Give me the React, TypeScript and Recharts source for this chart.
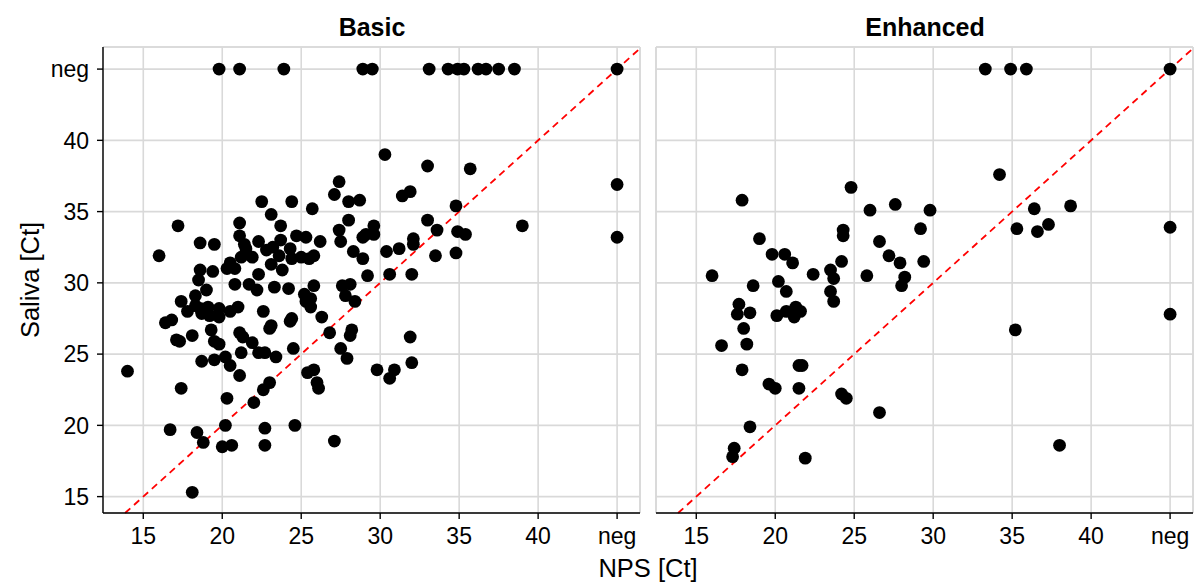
import React from "react";
import { ScatterChart, Scatter, XAxis, YAxis, CartesianGrid, ReferenceLine } from "recharts";

// "neg" results are drawn at Ct = 45
const NEG = 45;
const axisTicks = [15, 20, 25, 30, 35, 40, NEG];
const xDomain: [number, number] = [12.45, 46.45];
const yDomain: [number, number] = [13.85, 46.55];

// Basic panel: [NPS, Saliva]
const basicPairs: [number, number][] = [
  [16.0, 31.9], [17.2, 34.0], [18.6, 32.8], [19.5, 32.7], [22.5, 35.7], [23.1, 34.8], [23.7, 34.0],
  [24.4, 35.7], [25.7, 35.2], [27.1, 36.2], [27.4, 37.1], [28.0, 35.7], [28.7, 35.8],
  [21.1, 34.2], [21.1, 33.3], [21.4, 32.7], [21.5, 32.4], [22.3, 32.9], [22.8, 32.3], [23.2, 32.5],
  [23.7, 33.0], [24.7, 33.3], [25.3, 33.2], [26.2, 32.9], [24.3, 32.4], [23.6, 31.9], [24.4, 31.7],
  [25.0, 31.8], [25.8, 31.9], [25.5, 31.7], [21.9, 31.8], [21.2, 31.8], [23.1, 31.3], [23.8, 30.9],
  [20.5, 31.4], [20.3, 31.0], [20.8, 31.0], [18.6, 30.9], [19.4, 30.8], [18.5, 30.2], [20.8, 29.9],
  [21.7, 29.9], [22.3, 30.6], [22.2, 29.5], [23.3, 29.7], [24.2, 29.6], [25.8, 29.8], [25.2, 29.2],
  [25.6, 28.9], [25.3, 28.7], [25.6, 28.3], [26.3, 27.6],
  [27.4, 33.7], [27.5, 32.9], [28.0, 34.4], [28.3, 32.2], [28.9, 31.7], [28.9, 33.2], [29.1, 33.4],
  [29.6, 34.0], [29.6, 33.4], [29.2, 30.5], [27.6, 29.8], [28.1, 29.9], [27.8, 29.1], [28.4, 28.7],
  [22.6, 28.0], [24.4, 27.5], [24.3, 27.3], [17.4, 28.7], [18.3, 29.1], [19.0, 29.5], [17.8, 28.0],
  [18.6, 28.2], [18.3, 28.4], [19.1, 28.3], [19.8, 28.2], [20.5, 28.0], [21.0, 28.3], [16.8, 27.4],
  [18.7, 27.85], [19.8, 27.6], [19.2, 27.7], [16.4, 27.2],
  [30.3, 39.0], [33.0, 38.2], [35.7, 38.0], [31.4, 36.1], [31.9, 36.4], [34.8, 35.4], [33.0, 34.4],
  [33.6, 33.7], [34.9, 33.6], [35.4, 33.4], [39.0, 34.0], [30.4, 32.2], [31.2, 32.4], [32.1, 33.1],
  [32.1, 32.7], [33.5, 31.9], [34.8, 32.1], [30.6, 30.6], [32.0, 30.6],
  [14.0, 23.8], [17.4, 22.6], [16.7, 19.7], [18.4, 19.5], [18.8, 18.8], [18.1, 15.3], [20.3, 21.9],
  [20.2, 20.0], [20.0, 18.5], [20.6, 18.6], [22.7, 19.8], [22.7, 18.6], [24.6, 20.0], [22.0, 21.6],
  [22.6, 22.5], [23.0, 23.0], [21.1, 23.5], [18.7, 24.5], [19.5, 24.6], [20.2, 24.8], [20.5, 24.2],
  [21.2, 25.1], [22.3, 25.1], [22.7, 25.1], [23.4, 24.8], [24.5, 25.4], [25.4, 23.7], [25.8, 23.9],
  [26.0, 23.0], [26.1, 22.6], [17.1, 26.0], [17.3, 25.9], [18.1, 26.3], [19.3, 26.7], [19.5, 25.9],
  [19.8, 25.7], [21.1, 26.5], [21.3, 26.2], [21.9, 25.8], [23.0, 26.8], [23.1, 27.0],
  [26.8, 26.5], [28.2, 26.7], [28.1, 26.3], [27.5, 25.4], [27.9, 24.7], [29.8, 23.9], [30.9, 23.9],
  [30.6, 23.3], [31.9, 26.2], [32.0, 24.4], [27.1, 18.9],
];
const basicSalivaNeg = [19.8, 21.1, 23.9, 28.9, 29.5, 33.1, 34.3, 34.9, 35.3, 36.2, 36.7, 37.5, 38.5];
const basicNpsNeg = [36.9, 33.2];

// Enhanced panel: [NPS, Saliva]
const enhancedPairs: [number, number][] = [
  [17.9, 35.8], [24.8, 36.7], [26.0, 35.1], [27.6, 35.5], [29.8, 35.1], [29.2, 33.8], [24.3, 33.7],
  [24.3, 33.3], [19.0, 33.1], [26.6, 32.9], [19.8, 32.0], [20.6, 32.0], [21.1, 31.4], [27.2, 31.9],
  [27.9, 31.4], [29.4, 31.5], [24.2, 31.5], [16.0, 30.5], [22.4, 30.6], [23.5, 30.9], [23.7, 30.3],
  [25.8, 30.5], [28.2, 30.4], [28.0, 29.8], [18.6, 29.8], [20.2, 30.1], [20.7, 29.4], [23.5, 29.4],
  [23.7, 28.7], [17.7, 28.5], [17.6, 27.8], [18.4, 27.9], [20.1, 27.7], [20.7, 28.0], [21.3, 28.3],
  [21.2, 27.6], [21.6, 28.0], [18.0, 26.8], [16.6, 25.6], [18.2, 25.7], [21.5, 24.2], [21.7, 24.2],
  [17.9, 23.9], [19.6, 22.9], [20.0, 22.6], [21.5, 22.6], [24.2, 22.2], [24.5, 21.9], [26.6, 20.9],
  [18.4, 19.9], [17.4, 18.4], [17.3, 17.8], [21.9, 17.7],
  [34.2, 37.6], [36.4, 35.2], [38.7, 35.4], [35.3, 33.8], [36.6, 33.6], [37.3, 34.1], [35.2, 26.7],
  [38.0, 18.6],
];
const enhancedSalivaNeg = [33.3, 34.9, 35.9];
const enhancedNpsNeg = [33.9, 27.8];

type Pt = { nps: number; saliva: number };

function buildPoints(pairs: [number, number][], salivaNeg: number[], npsNeg: number[]): Pt[] {
  return [
    ...pairs.map(([nps, saliva]) => ({ nps, saliva })),
    ...salivaNeg.map((nps) => ({ nps, saliva: NEG })),
    ...npsNeg.map((saliva) => ({ nps: NEG, saliva })),
    { nps: NEG, saliva: NEG },
  ];
}

const FONT = "'Liberation Sans', Arial, Helvetica, sans-serif";
const GRID = "#d9d9d9";
const fmt = (v: number) => (v === NEG ? "neg" : String(v));
const dot = (p: any) => <circle cx={p.cx} cy={p.cy} r={6.4} fill="#000" />;
const tickFont = { fill: "#000", fontSize: 23, fontFamily: FONT };

function Panel({ data, showY, width }: { data: Pt[]; showY: boolean; width: number }) {
  return (
    <ScatterChart
      width={width}
      height={583}
      margin={{ top: 47, right: showY ? 10 : 1, bottom: 30, left: showY ? 8 : 11 }}
    >
      <CartesianGrid stroke={GRID} strokeWidth={1.6} />
      <XAxis
        type="number"
        dataKey="nps"
        domain={xDomain}
        ticks={axisTicks}
        tickFormatter={fmt}
        allowDataOverflow
        height={40}
        tickSize={6}
        tickMargin={9}
        axisLine={{ stroke: "#000", strokeWidth: 1.4 }}
        tickLine={{ stroke: "#000", strokeWidth: 1.4 }}
        tick={tickFont}
      />
      <YAxis
        type="number"
        dataKey="saliva"
        domain={yDomain}
        ticks={axisTicks}
        tickFormatter={fmt}
        allowDataOverflow
        width={showY ? 95 : 0}
        tickSize={6}
        tickMargin={8}
        axisLine={showY ? { stroke: "#000", strokeWidth: 1.4 } : false}
        tickLine={showY ? { stroke: "#000", strokeWidth: 1.4 } : false}
        tick={showY ? tickFont : { fontSize: 0, fill: "none" }}
      />
      <ReferenceLine y={yDomain[1]} stroke={GRID} strokeWidth={1.6} />
      <ReferenceLine x={xDomain[1]} stroke={GRID} strokeWidth={1.6} />
      {!showY && <ReferenceLine x={xDomain[0]} stroke={GRID} strokeWidth={1.6} />}
      <Scatter data={data} shape={dot} isAnimationActive={false} />
      <ReferenceLine
        segment={[
          { x: yDomain[0], y: yDomain[0] },
          { x: xDomain[1], y: xDomain[1] },
        ]}
        stroke="#ff0000"
        strokeWidth={1.8}
        strokeDasharray="7 5"
      />
    </ScatterChart>
  );
}

export default function App() {
  const text: React.CSSProperties = { position: "absolute", fontFamily: FONT, color: "#000", whiteSpace: "nowrap" };
  return (
    <div style={{ position: "absolute", left: 0, top: 0, width: 1194, height: 583, background: "#fff" }}>
      <div style={{ position: "absolute", left: 0, top: 0 }}>
        <Panel data={buildPoints(basicPairs, basicSalivaNeg, basicNpsNeg)} showY width={650} />
      </div>
      <div style={{ position: "absolute", left: 645, top: 0 }}>
        <Panel data={buildPoints(enhancedPairs, enhancedSalivaNeg, enhancedNpsNeg)} showY={false} width={549} />
      </div>
      <div style={{ ...text, left: 372, top: 27, transform: "translate(-50%, -50%)", fontSize: 25, fontWeight: 700 }}>
        Basic
      </div>
      <div style={{ ...text, left: 925, top: 27, transform: "translate(-50%, -50%)", fontSize: 25, fontWeight: 700 }}>
        Enhanced
      </div>
      <div style={{ ...text, left: 648, top: 568, transform: "translate(-50%, -50%)", fontSize: 25.5 }}>NPS [Ct]</div>
      <div
        style={{ ...text, left: 30, top: 280, transform: "translate(-50%, -50%) rotate(-90deg)", fontSize: 25.5 }}
      >
        Saliva [Ct]
      </div>
    </div>
  );
}
